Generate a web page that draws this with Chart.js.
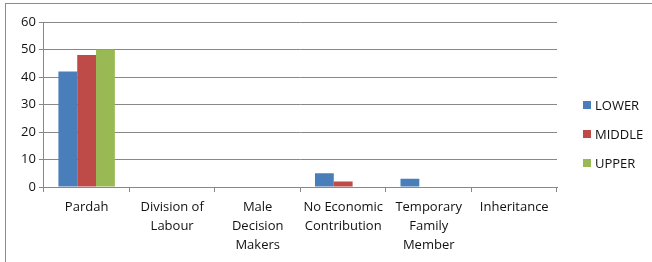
<!DOCTYPE html>
<html>
<head>
<meta charset="utf-8">
<script src="https://cdn.jsdelivr.net/npm/chart.js@4.4.0/dist/chart.umd.min.js"></script>
<style>
    html, body { margin: 0; padding: 0; background: #fff; }
    #frame {
        position: absolute; left: 5px; top: 3px; width: 647px; height: 259px;
        border-top: 1px solid #8c8c8c; border-left: 1px solid #8c8c8c;
    }
    #wrap { position: absolute; left: 0; top: 0; width: 652px; height: 262px; }
</style>
</head>
<body>
<div id="frame"></div>
<div id="wrap"><canvas id="barChart"></canvas></div>
<script>
var categories = [
    'Pardah',
    ['Division of', 'Labour'],
    ['Male', 'Decision', 'Makers'],
    ['No Economic', 'Contribution'],
    ['Temporary', 'Family', 'Member'],
    'Inheritance'
];
var lowerValues = [42, 0, 0, 5, 3, 0];
var middleValues = [48, 0, 0, 2, 0, 0];
var upperValues = [50, 0, 0, 0, 0, 0];
var yTicks = [0, 10, 20, 30, 40, 50, 60];

var fontFamily = "'Open Sans', 'Noto Sans', sans-serif";

// Legend drawn beside the plot, Excel style
var sideLegend = {
    id: 'sideLegend',
    afterDraw: function (chart) {
        var c = chart.ctx;
        var x = chart.chartArea.right + 26;
        var y = 105;
        c.save();
        c.font = '13px ' + fontFamily;
        c.textBaseline = 'middle';
        chart.data.datasets.forEach(function (ds, i) {
            var rowY = y + i * 29;
            c.fillStyle = ds.backgroundColor;
            c.fillRect(x, rowY - 4, 8, 8);
            c.fillStyle = '#111';
            c.fillText(ds.label, x + 12, rowY + 1);
        });
        c.restore();
    }
};

var ctx = document.getElementById('barChart').getContext('2d');
var barChart = new Chart(ctx, {
    type: 'bar',
    data: {
        labels: categories,
        datasets: [
            { label: 'LOWER', data: lowerValues, backgroundColor: '#4a7ebb' },
            { label: 'MIDDLE', data: middleValues, backgroundColor: '#be4b48' },
            { label: 'UPPER', data: upperValues, backgroundColor: '#98b954' }
        ]
    },
    plugins: [sideLegend],
    options: {
        responsive: true,
        maintainAspectRatio: false,
        animation: false,
        layout: { padding: { left: 18, top: 22, right: 95, bottom: 1 } },
        datasets: {
            bar: { barPercentage: 1, categoryPercentage: 0.66 }
        },
        plugins: {
            tooltip: { enabled: false },
            legend: { display: false }
        },
        scales: {
            x: {
                grid: {
                    offset: true,
                    drawOnChartArea: false,
                    tickLength: 5,
                    color: '#888'
                },
                border: { color: '#888' },
                ticks: {
                    color: '#111',
                    maxRotation: 0,
                    autoSkip: false,
                    padding: 6,
                    font: { family: fontFamily, size: 13, lineHeight: 1.46 }
                }
            },
            y: {
                min: 0,
                max: 60,
                afterBuildTicks: function (axis) {
                    axis.ticks = yTicks.map(function (v) { return { value: v }; });
                },
                grid: { color: '#888', tickLength: 5 },
                border: { color: '#888' },
                ticks: {
                    color: '#111',
                    padding: 3,
                    font: { family: fontFamily, size: 13 }
                }
            }
        }
    }
});
</script>
</body>
</html>
